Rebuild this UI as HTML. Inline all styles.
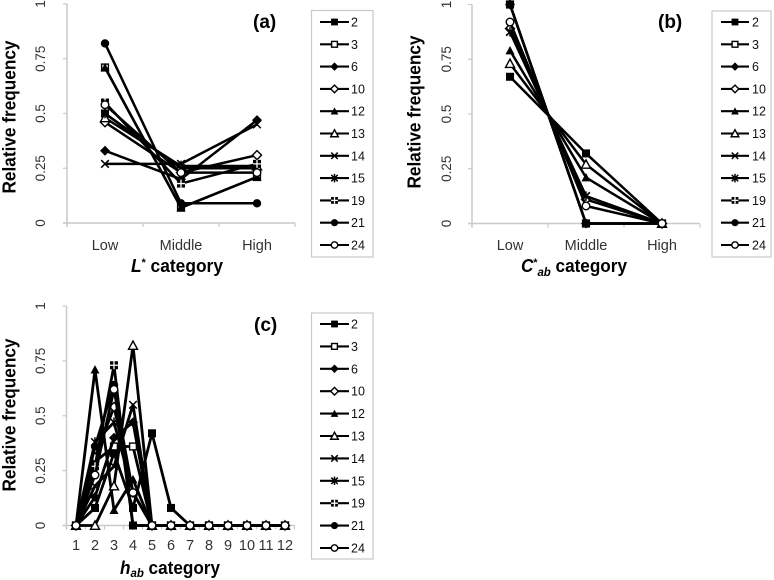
<!DOCTYPE html>
<html>
<head>
<meta charset="utf-8">
<title>Relative frequency charts</title>
<style>
html,body{margin:0;padding:0;background:#fff;}
svg{display:block;filter:blur(0.35px);}
text{font-family:"Liberation Sans",sans-serif;}
</style>
</head>
<body>
<svg id="figure" width="774" height="580" viewBox="0 0 774 580" xmlns="http://www.w3.org/2000/svg">
  <g fill="#000" font-weight="bold">
    <text transform="translate(15.5,117) rotate(-90)" text-anchor="middle" font-size="18" textLength="153" lengthAdjust="spacingAndGlyphs">Relative frequency</text>
    <text x="131" y="272" font-size="18" textLength="92" lengthAdjust="spacingAndGlyphs"><tspan font-style="italic">L</tspan><tspan font-size="11" dy="-6">*</tspan><tspan dy="6"> category</tspan></text>
    <text x="253" y="28" font-size="19">(a)</text>
  </g>
  <g fill="#000" font-weight="bold">
    <text transform="translate(420.5,112) rotate(-90)" text-anchor="middle" font-size="18" textLength="153" lengthAdjust="spacingAndGlyphs">Relative frequency</text>
    <text x="521" y="272" font-size="18" textLength="106" lengthAdjust="spacingAndGlyphs"><tspan font-style="italic">C</tspan><tspan font-size="11" dy="-6">*</tspan><tspan font-size="12" font-style="italic" dy="10">ab</tspan><tspan dy="-4"> category</tspan></text>
    <text x="658" y="28" font-size="19">(b)</text>
  </g>
  <g fill="#000" font-weight="bold">
    <text transform="translate(15.5,415) rotate(-90)" text-anchor="middle" font-size="18" textLength="153" lengthAdjust="spacingAndGlyphs">Relative frequency</text>
    <text x="120" y="574" font-size="18" textLength="100" lengthAdjust="spacingAndGlyphs"><tspan font-style="italic">h</tspan><tspan font-size="12" font-style="italic" dy="3">ab</tspan><tspan dy="-3"> category</tspan></text>
    <text x="254" y="331" font-size="19">(c)</text>
  </g>
</svg>
<script>
var seriesLabels = ['2','3','6','10','12','13','14','15','19','21','24'];
var yTickValues = [0, 0.25, 0.5, 0.75, 1];
var yTickLabels = ['0','0.25','0.5','0.75','1'];

var lightnessCategories = ['Low','Middle','High'];
var lightness2  = [0.50, 0.25, 0.25];
var lightness3  = [0.71, 0.07, 0.21];
var lightness6  = [0.33, 0.20, 0.47];
var lightness10 = [0.46, 0.23, 0.31];
var lightness12 = [0.71, 0.07, 0.21];
var lightness13 = [0.48, 0.26, 0.26];
var lightness14 = [0.27, 0.27, 0.45];
var lightness15 = [0.50, 0.25, 0.25];
var lightness19 = [0.55, 0.18, 0.27];
var lightness21 = [0.82, 0.09, 0.09];
var lightness24 = [0.54, 0.23, 0.23];

var chromaCategories = ['Low','Middle','High'];
var chroma2  = [0.67, 0.32, 0];
var chroma3  = [1, 0, 0];
var chroma6  = [1, 0, 0];
var chroma10 = [0.89, 0.11, 0];
var chroma12 = [0.79, 0.21, 0];
var chroma13 = [0.73, 0.27, 0];
var chroma14 = [0.875, 0.125, 0];
var chroma15 = [0.875, 0.125, 0];
var chroma19 = [1, 0, 0];
var chroma21 = [1, 0, 0];
var chroma24 = [0.92, 0.08, 0];

var hueCategories = ['1','2','3','4','5','6','7','8','9','10','11','12'];
var hue2  = [0, 0.08, 0.33, 0.08, 0.42, 0.08, 0, 0, 0, 0, 0, 0];
var hue3  = [0, 0.29, 0.36, 0.36, 0, 0, 0, 0, 0, 0, 0, 0];
var hue6  = [0, 0.13, 0.40, 0.47, 0, 0, 0, 0, 0, 0, 0, 0];
var hue10 = [0, 0.31, 0.54, 0.15, 0, 0, 0, 0, 0, 0, 0, 0];
var hue12 = [0, 0.71, 0.07, 0.21, 0, 0, 0, 0, 0, 0, 0, 0];
var hue13 = [0, 0, 0.18, 0.82, 0, 0, 0, 0, 0, 0, 0, 0];
var hue14 = [0, 0.18, 0.27, 0.55, 0, 0, 0, 0, 0, 0, 0, 0];
var hue15 = [0, 0.38, 0.47, 0.15, 0, 0, 0, 0, 0, 0, 0, 0];
var hue19 = [0, 0.27, 0.73, 0, 0, 0, 0, 0, 0, 0, 0, 0];
var hue21 = [0, 0.36, 0.64, 0, 0, 0, 0, 0, 0, 0, 0, 0];
var hue24 = [0, 0.23, 0.62, 0.15, 0, 0, 0, 0, 0, 0, 0, 0];

var lightnessSeries = [lightness2, lightness3, lightness6, lightness10, lightness12, lightness13, lightness14, lightness15, lightness19, lightness21, lightness24];
var chromaSeries = [chroma2, chroma3, chroma6, chroma10, chroma12, chroma13, chroma14, chroma15, chroma19, chroma21, chroma24];
var hueSeries = [hue2, hue3, hue6, hue10, hue12, hue13, hue14, hue15, hue19, hue21, hue24];

var NS = 'http://www.w3.org/2000/svg';
var root = document.getElementById('figure');
var AXIS = '#c9c9c9';

function mk(parent, tag, attrs) {
  var el = document.createElementNS(NS, tag);
  for (var k in attrs) { el.setAttribute(k, attrs[k]); }
  parent.appendChild(el);
  return el;
}

function drawMarker(parent, kind, x, y, scale) {
  var s = scale;
  var g = mk(parent, 'g', {});
  
  
  if (kind === 0) {
    mk(g, 'rect', {x: x - 4 * s, y: y - 4 * s, width: 8 * s, height: 8 * s, fill: '#000'});
  } else if (kind === 1) {
    mk(g, 'rect', {x: x - 3.4 * s, y: y - 3.4 * s, width: 6.8 * s, height: 6.8 * s, fill: '#fff', stroke: '#000', 'stroke-width': 1.4});
  } else if (kind === 2 || kind === 3) {
    var r = (kind === 2 ? 5 : 4.5) * s;
    mk(g, 'polygon', {points: (x - r) + ',' + y + ' ' + x + ',' + (y - r) + ' ' + (x + r) + ',' + y + ' ' + x + ',' + (y + r),
      fill: kind === 2 ? '#000' : '#fff', stroke: '#000', 'stroke-width': kind === 2 ? 0 : 1.4});
  } else if (kind === 4 || kind === 5) {
    var t = 4.5 * s;
    mk(g, 'polygon', {points: (x - t) + ',' + (y + t * 0.85) + ' ' + x + ',' + (y - t) + ' ' + (x + t) + ',' + (y + t * 0.85),
      fill: kind === 4 ? '#000' : '#fff', stroke: '#000', 'stroke-width': kind === 4 ? 0 : 1.4});
  } else if (kind === 6 || kind === 7) {
    var c = 3.8 * s;
    mk(g, 'path', {d: 'M' + (x - c) + ' ' + (y - c) + 'L' + (x + c) + ' ' + (y + c) + 'M' + (x - c) + ' ' + (y + c) + 'L' + (x + c) + ' ' + (y - c) + (kind === 7 ? 'M' + x + ' ' + (y - c - 1) + 'L' + x + ' ' + (y + c + 1) : ''),
      fill: 'none', stroke: '#000', 'stroke-width': 1.5});
  } else if (kind === 8) {
    mk(g, 'rect', {x: x - 4 * s, y: y - 4 * s, width: 8 * s, height: 8 * s, fill: '#000'});
    mk(g, 'path', {d: 'M' + (x - 4 * s) + ' ' + y + 'L' + (x + 4 * s) + ' ' + y + 'M' + x + ' ' + (y - 4 * s) + 'L' + x + ' ' + (y + 4 * s),
      stroke: '#fff', 'stroke-width': 1.3, fill: 'none'});
  } else if (kind === 9) {
    mk(g, 'circle', {cx: x, cy: y, r: 4.2 * s, fill: '#000'});
  } else {
    mk(g, 'circle', {cx: x, cy: y, r: 3.8 * s, fill: '#fff', stroke: '#000', 'stroke-width': 1.4});
  }
}

function drawChart(id, left, right, top, bottom, labelX, labelBaseline, lineWidth, categories, series) {
  var g = mk(root, 'g', {});
  
  
  var step = (right - left) / categories.length;
  function xScale(i) { return left + step * (i + 0.5); }
  function yScale(v) { return bottom - v * (bottom - top); }

  var axes = mk(g, 'g', {});
  
  
  mk(axes, 'line', {x1: left, y1: top, x2: left, y2: bottom + 4, stroke: AXIS, 'stroke-width': 1.5});
  mk(axes, 'line', {x1: left - 4, y1: bottom, x2: right, y2: bottom, stroke: AXIS, 'stroke-width': 1.5});
  for (var i = 0; i <= categories.length; i++) {
    var tx = left + step * i;
    mk(axes, 'line', {x1: tx, y1: bottom, x2: tx, y2: bottom + 4, stroke: AXIS, 'stroke-width': 1.2});
  }
  yTickValues.forEach(function (v, idx) {
    var ty = yScale(v);
    mk(axes, 'line', {x1: left - 4, y1: ty, x2: left, y2: ty, stroke: AXIS, 'stroke-width': 1.2});
    var lab = mk(axes, 'text', {transform: 'translate(' + labelX + ',' + ty + ') rotate(-90)', 'text-anchor': 'middle', 'font-size': 13.5, fill: '#333'});
    
    
    lab.textContent = yTickLabels[idx];
  });
  categories.forEach(function (c, idx) {
    var lab = mk(axes, 'text', {x: xScale(idx), y: labelBaseline, 'text-anchor': 'middle', 'font-size': 14.5, fill: '#333'});
    
    
    lab.textContent = c;
  });

  series.forEach(function (vals, s) {
    var sg = mk(g, 'g', {});
    
    
    var pts = vals.map(function (v, i) { return xScale(i) + ',' + yScale(v); }).join(' ');
    mk(sg, 'polyline', {points: pts, fill: 'none', stroke: '#000', 'stroke-width': lineWidth, 'stroke-linejoin': 'round'});
    vals.forEach(function (v, i) { drawMarker(sg, s, xScale(i), yScale(v), 1); });
  });
}

function drawLegend(id, left, top, width, height, lineStart, lineEnd, textX, firstRow, rowStep) {
  var g = mk(root, 'g', {});
  
  
  mk(g, 'rect', {x: left, y: top, width: width, height: height, fill: '#fff', stroke: '#c9c9c9', 'stroke-width': 1.2});
  seriesLabels.forEach(function (label, s) {
    var y = firstRow + rowStep * s;
    var row = mk(g, 'g', {});
    
    
    mk(row, 'line', {x1: lineStart, y1: y, x2: lineEnd, y2: y, stroke: '#000', 'stroke-width': 2.1});
    drawMarker(row, s, (lineStart + lineEnd) / 2, y, 0.85);
    var t = mk(row, 'text', {x: textX, y: y + 4.5, 'font-size': 12.5, fill: '#111'});
    
    
    t.textContent = label;
  });
}

drawChart('a', 67, 295, 4, 223, 45, 250, 2.5, lightnessCategories, lightnessSeries);
drawChart('b', 472, 700, 4.5, 223.5, 451, 250, 2.5, chromaCategories, chromaSeries);
drawChart('c', 66.5, 294.5, 306, 525.5, 45, 550, 2.8, hueCategories, hueSeries);

drawLegend('a', 311.5, 10.5, 61.5, 246.5, 320, 349, 351, 22, 22.3);
drawLegend('b', 712, 11, 59, 246, 721, 749, 752, 22, 22.3);
drawLegend('c', 311.5, 313, 61.5, 246, 320, 349, 351, 324, 22.4);
</script>
</body>
</html>
